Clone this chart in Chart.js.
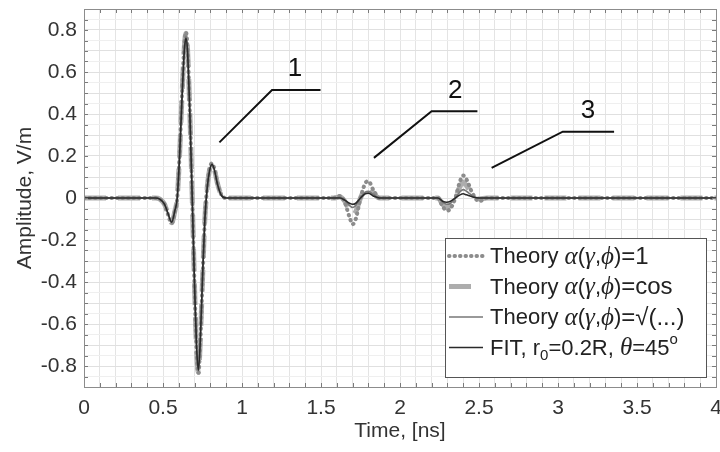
<!DOCTYPE html>
<html>
<head>
<meta charset="utf-8">
<script src="https://cdn.jsdelivr.net/npm/chart.js@4.4.1/dist/chart.umd.min.js"></script>
<style>
  body { margin: 0; background: #fff; }
  #wrap { width: 720px; height: 452px; }
</style>
</head>
<body>
<div id="wrap"><canvas id="myChart"></canvas></div>
<script>
// time samples shared by all four curves, ns
const timeNs = [
    0, 0.2, 0.45, 0.48, 0.51, 0.53, 0.555, 0.575, 0.59, 0.605,
    0.62, 0.635, 0.645, 0.655, 0.67, 0.685, 0.70, 0.712, 0.724, 0.736,
    0.75, 0.765, 0.78, 0.795, 0.81, 0.825, 0.845, 0.87, 0.90, 1.2,
    1.58, 1.62, 1.65, 1.68, 1.70, 1.72, 1.75, 1.78, 1.80, 1.83, 1.87, 1.92,
    2.20, 2.24, 2.27, 2.295, 2.32, 2.35, 2.38, 2.40, 2.42, 2.46, 2.50, 2.55,
    3.0, 4.0
]

const theoryOne = [
    0, 0, 0, -0.005, -0.03, -0.075, -0.12, -0.065, 0.0, 0.21,
    0.49, 0.73, 0.79, 0.72, 0.41, 0.0, -0.43, -0.72, -0.835, -0.69,
    -0.40, -0.10, 0.055, 0.14, 0.165, 0.14, 0.07, 0.015, 0, 0,
    0, 0.01, -0.02, -0.09, -0.125, -0.10, 0.0, 0.07, 0.08, 0.04, 0.0, 0,
    0, 0, -0.04, -0.06, -0.05, 0.0, 0.08, 0.107, 0.09, 0.02, -0.015, 0,
    0, 0
]

const theoryCos = [
    0, 0, 0, -0.005, -0.03, -0.073, -0.118, -0.063, 0.0, 0.205,
    0.48, 0.72, 0.785, 0.715, 0.405, 0.0, -0.43, -0.715, -0.83, -0.685,
    -0.39, -0.10, 0.052, 0.135, 0.162, 0.137, 0.068, 0.014, 0, 0,
    0, 0.005, -0.015, -0.06, -0.08, -0.065, 0.0, 0.045, 0.05, 0.025, 0, 0,
    0, 0, -0.03, -0.045, -0.035, 0.0, 0.055, 0.075, 0.06, 0.015, -0.005, 0,
    0, 0
]

const theorySqrt = [
    0, 0, 0, -0.005, -0.03, -0.071, -0.116, -0.061, 0.0, 0.2,
    0.475, 0.71, 0.77, 0.71, 0.40, 0.0, -0.425, -0.705, -0.825, -0.68,
    -0.385, -0.10, 0.05, 0.13, 0.16, 0.135, 0.065, 0.012, 0, 0,
    0, 0.003, -0.01, -0.035, -0.045, -0.035, 0.0, 0.028, 0.032, 0.018, 0, 0,
    0, 0, -0.02, -0.03, -0.025, 0.0, 0.03, 0.04, 0.032, 0.01, 0, 0,
    0, 0
]

const fitCurve = [
    0, 0, 0, -0.005, -0.03, -0.07, -0.115, -0.06, 0.0, 0.2,
    0.47, 0.70, 0.76, 0.70, 0.40, 0.0, -0.42, -0.70, -0.82, -0.68,
    -0.38, -0.10, 0.05, 0.13, 0.16, 0.135, 0.065, 0.012, 0, 0,
    0, 0, -0.01, -0.025, -0.03, -0.025, 0.0, 0.02, 0.023, 0.01, 0, 0,
    0, 0, -0.015, -0.02, -0.015, 0.0, 0.015, 0.02, 0.015, 0.005, 0, 0,
    0, 0
]

// callout leader lines "1", "2", "3" in data units
const calloutX = [[0.857, 1.19, 1.497], [1.835, 2.20, 2.49], [2.58, 3.03, 3.355]]
const calloutY = [[0.265, 0.514, 0.514], [0.191, 0.413, 0.413], [0.143, 0.316, 0.316]]
const calloutText = ['1', '2', '3']
const calloutTextX = [1.335, 2.35, 3.19]
const calloutTextY = [0.615, 0.51, 0.415]

const SANS = '"Liberation Sans", Arial, sans-serif'
const G = 'italic 25px "Liberation Serif", "DejaVu Serif", serif'
const N22 = '22px ' + SANS
const N24 = '24px ' + SANS
const SMALL = '15px ' + SANS

const alphaPart = [['α', G], ['(', N22], ['γ', G], [',', N22], ['ϕ', G], [')', N22]]
const legendRows = [
    [['Theory ', N22], ...alphaPart, ['=1', N24]],
    [['Theory ', N22], ...alphaPart, ['=cos', N24]],
    [['Theory ', N22], ...alphaPart, ['=√(...)', N24]],
    [['FIT, r', N22], ['0', SMALL, 7], ['=0.2R, ', N22], ['θ', G], ['=45', N22], ['o', SMALL, -9]]
]

function toPoints(ys) {
    return timeNs.map((t, i) => ({ x: t, y: ys[i] }))
}

const seriesDatasets = [
    {
        data: toPoints(theoryOne),
        borderColor: '#8c8c8c',
        borderWidth: 4,
        borderDash: [0.5, 5],
        borderCapStyle: 'round',
        order: 3
    },
    {
        data: toPoints(theoryCos),
        borderColor: '#adadad',
        borderWidth: 5,
        borderDash: [22, 12],
        order: 4
    },
    {
        data: toPoints(theorySqrt),
        borderColor: '#777777',
        borderWidth: 1.6,
        order: 2
    },
    {
        data: toPoints(fitCurve),
        borderColor: '#2a2a2a',
        borderWidth: 1.6,
        order: 1
    }
].map(d => Object.assign({
    type: 'line',
    pointRadius: 0,
    fill: false,
    cubicInterpolationMode: 'monotone'
}, d))

const calloutDatasets = calloutX.map((xs, k) => ({
    type: 'line',
    data: xs.map((x, i) => ({ x: x, y: calloutY[k][i] })),
    borderColor: '#111',
    borderWidth: 2,
    pointRadius: 0,
    tension: 0,
    order: 0
}))

const frameAndLegend = {
    id: 'frameAndLegend',
    afterDatasetsDraw(chart) {
        const { ctx, chartArea: a, scales } = chart
        ctx.save()
        // inner tick marks, matlab style
        ctx.strokeStyle = '#7a7a7a'
        ctx.lineWidth = 1
        ctx.beginPath()
        for (const t of scales.y.ticks) {
            const py = Math.round(scales.y.getPixelForValue(t.value)) + 0.5
            ctx.moveTo(a.left, py); ctx.lineTo(a.left + 4, py)
            ctx.moveTo(a.right, py); ctx.lineTo(a.right - 4, py)
        }
        for (const t of scales.x.ticks) {
            const px = Math.round(scales.x.getPixelForValue(t.value)) + 0.5
            ctx.moveTo(px, a.bottom); ctx.lineTo(px, a.bottom - 4)
            ctx.moveTo(px, a.top); ctx.lineTo(px, a.top + 4)
        }
        ctx.stroke()
        ctx.strokeStyle = '#8c8c8c'
        ctx.strokeRect(Math.round(a.left) + 0.5, Math.round(a.top) + 0.5,
            Math.round(a.right - a.left), Math.round(a.bottom - a.top))

        // callout numbers
        ctx.fillStyle = '#111'
        ctx.font = '26px ' + SANS
        ctx.textAlign = 'center'
        ctx.textBaseline = 'middle'
        calloutText.forEach((s, i) => {
            ctx.fillText(s, scales.x.getPixelForValue(calloutTextX[i]), scales.y.getPixelForValue(calloutTextY[i]))
        })

        // legend box
        const bw = 261, bh = 139
        const bx = a.right - 10 - bw, by = a.bottom - 10 - bh
        ctx.fillStyle = '#fff'
        ctx.fillRect(bx, by, bw, bh)
        ctx.strokeStyle = '#555'
        ctx.strokeRect(Math.round(bx) + 0.5, Math.round(by) + 0.5, bw, bh)
        legendRows.forEach((row, i) => {
            const ds = chart.data.datasets[i]
            const ry = by + 18 + i * 30.5
            ctx.save()
            ctx.strokeStyle = ds.borderColor
            ctx.lineWidth = ds.borderWidth
            ctx.setLineDash(ds.borderDash || [])
            ctx.lineCap = ds.borderCapStyle || 'butt'
            ctx.beginPath()
            ctx.moveTo(bx + 4, ry); ctx.lineTo(bx + 38, ry)
            ctx.stroke()
            ctx.restore()
            let tx = bx + 45
            ctx.fillStyle = '#222'
            ctx.textAlign = 'left'
            ctx.textBaseline = 'middle'
            for (const seg of row) {
                ctx.font = seg[1]
                ctx.fillText(seg[0], tx, ry + 1 + (seg[2] || 0))
                tx += ctx.measureText(seg[0]).width
            }
        })
        ctx.restore()
    }
}

function isStep(v, step) {
    return Math.abs(v / step - Math.round(v / step)) < 1e-6
}

function fmt(v) {
    const r = Math.round(v * 10) / 10
    return r === 0 ? '0' : String(r)
}

const ctx = document.getElementById('myChart')
new Chart(ctx, {
    data: { datasets: seriesDatasets.concat(calloutDatasets) },
    options: {
        responsive: true,
        maintainAspectRatio: false,
        animation: false,
        layout: { padding: { left: 0, top: 9, right: 4, bottom: 0 } },
        plugins: { legend: { display: false }, tooltip: { enabled: false } },
        scales: {
            x: {
                type: 'linear',
                min: 0,
                max: 4,
                afterFit: s => { s.height = 65; s.paddingLeft = 0; s.paddingRight = 0 },
                ticks: {
                    stepSize: 0.1,
                    autoSkip: false,
                    maxRotation: 0,
                    padding: 9,
                    color: '#333',
                    font: { family: SANS, size: 21 },
                    callback: v => isStep(v, 0.5) ? fmt(v) : ''
                },
                grid: { color: '#e4e4e4', drawTicks: false },
                border: { display: false },
                title: {
                    display: true,
                    text: 'Time, [ns]',
                    color: '#333',
                    font: { family: SANS, size: 21 },
                    padding: { top: 0, bottom: 8 }
                }
            },
            y: {
                type: 'linear',
                min: -0.9,
                max: 0.9,
                afterFit: s => { s.width = 84; s.paddingTop = 0; s.paddingBottom = 0 },
                ticks: {
                    stepSize: 0.05,
                    autoSkip: false,
                    padding: 7,
                    color: '#333',
                    font: { family: SANS, size: 21 },
                    callback: v => isStep(v, 0.2) ? fmt(v) : ''
                },
                grid: {
                    color: c => isStep(c.tick.value, 0.1) ? '#e0e0e0' : '#efefef',
                    drawTicks: false
                },
                border: { display: false },
                title: {
                    display: true,
                    text: 'Amplitude, V/m',
                    color: '#333',
                    font: { family: SANS, size: 21 },
                    padding: { top: 13, bottom: 0 }
                }
            }
        }
    },
    plugins: [frameAndLegend]
})
</script>
</body>
</html>
